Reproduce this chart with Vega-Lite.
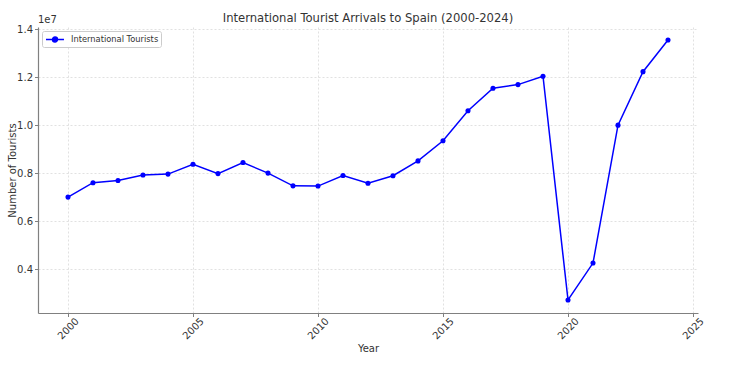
{
  "$schema": "https://vega.github.io/schema/vega-lite/v6.json",
  "autosize": {"type": "none"},
  "width": 660,
  "height": 286,
  "padding": {"left": 38, "top": 27, "right": 33, "bottom": 55},
  "background": "white",
  "title": {"text": "International Tourist Arrivals to Spain (2000-2024)", "font": "DejaVu Sans", "fontSize": 11.6, "fontWeight": "normal", "color": "#333333", "anchor": "middle", "offset": -10},
  "config": {
    "view": {"stroke": null},
    "font": "DejaVu Sans",
    "axis": {"labelFont": "DejaVu Sans", "titleFont": "DejaVu Sans", "labelFontSize": 10, "titleFontSize": 10, "labelColor": "#333333", "titleColor": "#333333", "titleFontWeight": "normal", "domainColor": "#808080", "domainWidth": 1.2, "tickColor": "#808080", "tickSize": 3.5, "gridColor": "#d4d4d4", "gridDash": [2, 2], "gridWidth": 0.7}
  },
  "data": {"values": [
    {"year": 2000, "tourists": 7000000, "series": "International Tourists"},
    {"year": 2001, "tourists": 7600000, "series": "International Tourists"},
    {"year": 2002, "tourists": 7690000, "series": "International Tourists"},
    {"year": 2003, "tourists": 7920000, "series": "International Tourists"},
    {"year": 2004, "tourists": 7960000, "series": "International Tourists"},
    {"year": 2005, "tourists": 8370000, "series": "International Tourists"},
    {"year": 2006, "tourists": 7980000, "series": "International Tourists"},
    {"year": 2007, "tourists": 8440000, "series": "International Tourists"},
    {"year": 2008, "tourists": 8000000, "series": "International Tourists"},
    {"year": 2009, "tourists": 7470000, "series": "International Tourists"},
    {"year": 2010, "tourists": 7460000, "series": "International Tourists"},
    {"year": 2011, "tourists": 7900000, "series": "International Tourists"},
    {"year": 2012, "tourists": 7580000, "series": "International Tourists"},
    {"year": 2013, "tourists": 7890000, "series": "International Tourists"},
    {"year": 2014, "tourists": 8510000, "series": "International Tourists"},
    {"year": 2015, "tourists": 9350000, "series": "International Tourists"},
    {"year": 2016, "tourists": 10600000, "series": "International Tourists"},
    {"year": 2017, "tourists": 11540000, "series": "International Tourists"},
    {"year": 2018, "tourists": 11690000, "series": "International Tourists"},
    {"year": 2019, "tourists": 12040000, "series": "International Tourists"},
    {"year": 2020, "tourists": 2710000, "series": "International Tourists"},
    {"year": 2021, "tourists": 4250000, "series": "International Tourists"},
    {"year": 2022, "tourists": 10000000, "series": "International Tourists"},
    {"year": 2023, "tourists": 12230000, "series": "International Tourists"},
    {"year": 2024, "tourists": 13550000, "series": "International Tourists"}
  ]},
  "layer": [
    {
      "mark": {"type": "line", "strokeWidth": 1.5, "point": {"filled": true, "size": 26}},
      "encoding": {
        "x": {"field": "year", "type": "quantitative", "scale": {"domain": [1998.8, 2025.2], "nice": false, "zero": false}, "axis": {"values": [2000, 2005, 2010, 2015, 2020, 2025], "format": "d", "labelAngle": -45, "labelAlign": "center", "labelBaseline": "middle", "labelPadding": 12, "title": "Year", "titlePadding": 2, "grid": true}},
        "y": {"field": "tourists", "type": "quantitative", "scale": {"domain": [2168000, 14092000], "nice": false, "zero": false}, "axis": {"values": [4000000, 6000000, 8000000, 10000000, 12000000, 14000000], "labelExpr": "format(datum.value / 10000000, '.1f')", "title": "Number of Tourists", "titlePadding": -1, "grid": true}},
        "color": {"field": "series", "type": "nominal", "scale": {"range": ["#0000ff"]}, "legend": {"title": null, "orient": "top-left", "offset": 4, "labelFontSize": 8.3, "labelFont": "DejaVu Sans", "labelColor": "#333333", "strokeColor": "#cccccc", "fillColor": "white", "padding": 2, "cornerRadius": 2, "symbolType": "M-0.82,0H2.45M0.37,0A0.45,0.45,0,1,1,1.27,0A0.45,0.45,0,1,1,0.37,0", "symbolSize": 121, "symbolStrokeWidth": 1.5, "symbolFillColor": "#0000ff", "symbolStrokeColor": "#0000ff", "labelOffset": 14}}
      }
    },
    {
      "data": {"values": [{"label": "1e7"}]},
      "mark": {"type": "text", "align": "left", "baseline": "bottom", "fontSize": 10, "font": "DejaVu Sans", "color": "#333333", "dy": -2},
      "encoding": {
        "x": {"datum": 1998.8, "type": "quantitative"},
        "y": {"datum": 14092000, "type": "quantitative"},
        "text": {"field": "label"}
      }
    }
  ]
}
